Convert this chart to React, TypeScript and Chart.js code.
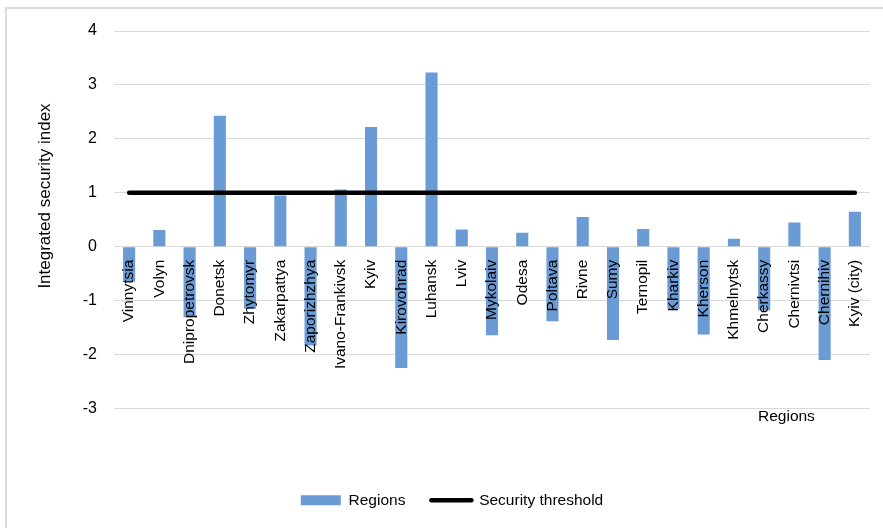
import React, { useEffect, useRef } from "react";
import { Chart, registerables } from "chart.js";

Chart.register(...registerables);

const regions = [
  "Vinnytsia", "Volyn", "Dnipropetrovsk", "Donetsk", "Zhytomyr", "Zakarpattya",
  "Zaporizhzhya", "Ivano-Frankivsk", "Kyiv", "Kirovohrad", "Luhansk", "Lviv",
  "Mykolaiv", "Odesa", "Poltava", "Rivne", "Sumy", "Ternopil", "Kharkiv",
  "Kherson", "Khmelnytsk", "Cherkassy", "Chernivtsi", "Chernihiv", "Kyiv (city)",
];
const indexValues = [
  -0.65, 0.31, -1.31, 2.43, -1.15, 0.95, -1.83, 1.06, 2.22, -2.25, 3.23, 0.32,
  -1.64, 0.26, -1.38, 0.55, -1.73, 0.33, -1.15, -1.63, 0.15, -1.18, 0.45, -2.1, 0.65,
];
const thresholdValues = regions.map(() => 1);
const yTicks = [4, 3, 2, 1, 0, -1, -2, -3];

const FONT = "'Liberation Sans', Arial, sans-serif";
const BAR = "#6b9bd4";
const GRID = "#d9d9d9";

const titlesPlugin = {
  id: "axisTitles",
  afterDraw(chart: any) {
    const ctx = chart.ctx;
    ctx.save();
    ctx.fillStyle = "#000";
    ctx.font = `15.5px ${FONT}`;
    ctx.textAlign = "left";
    ctx.textBaseline = "alphabetic";
    ctx.fillText("Regions", 758, 421);
    ctx.font = `17px ${FONT}`;
    ctx.translate(45, 196);
    ctx.rotate(-Math.PI / 2);
    ctx.textAlign = "center";
    ctx.textBaseline = "middle";
    ctx.fillText("Integrated security index", 0, 0);
    ctx.restore();
  },
};

export default function App() {
  const ref = useRef<HTMLCanvasElement>(null);
  useEffect(() => {
    const chart = new Chart(ref.current!, {
      type: "bar",
      data: {
        labels: regions,
        datasets: [
          {
            type: "line",
            label: "Security threshold",
            data: thresholdValues,
            borderColor: "#000",
            backgroundColor: "#000",
            borderWidth: 4.5,
            borderCapStyle: "round",
            pointRadius: 0,
            order: 0,
          } as any,
          {
            type: "bar",
            label: "Regions",
            data: indexValues,
            backgroundColor: BAR,
            borderWidth: 0,
            barPercentage: 0.4,
            categoryPercentage: 1,
            order: 1,
          },
        ],
      },
      options: {
        animation: false,
        responsive: false,
        layout: { padding: { top: 31, left: 34, right: 13, bottom: 10 } },
        plugins: {
          tooltip: { enabled: false },
          legend: {
            position: "bottom",
            labels: {
              usePointStyle: true,
              pointStyleWidth: 40,
              boxHeight: 10,
              padding: 26,
              color: "#000",
              font: { family: FONT, size: 15.5 },
              generateLabels: () => [
                { text: "Regions", fillStyle: BAR, strokeStyle: BAR, lineWidth: 0, pointStyle: "rect", datasetIndex: 1, hidden: false },
                { text: "Security threshold", fillStyle: "#000", strokeStyle: "#000", lineWidth: 4.5, lineCap: "round", pointStyle: "line", datasetIndex: 0, hidden: false } as any,
              ],
            },
          },
        },
        scales: {
          x: {
            position: { y: 0 } as any,
            grid: { display: false },
            border: { display: false },
            ticks: {
              z: 1,
              autoSkip: false,
              minRotation: 90,
              maxRotation: 90,
              padding: 5,
              color: "#000",
              font: { family: FONT, size: 15.5 },
            },
          },
          x2: {
            type: "category",
            position: "bottom",
            grid: { display: false },
            border: { display: false },
            ticks: { display: false },
            afterFit: (s: any) => { s.height = 58; },
          } as any,
          y: {
            min: -3,
            max: 4,
            afterFit: (s: any) => { s.width = 80; },
            afterBuildTicks: (s: any) => { s.ticks = yTicks.map((v) => ({ value: v })); },
            grid: { color: GRID, lineWidth: 1, drawTicks: false },
            border: { display: false },
            ticks: {
              padding: 17,
              color: "#000",
              font: { family: FONT, size: 16 },
            },
          },
        },
      },
      plugins: [titlesPlugin],
    });
    return () => chart.destroy();
  }, []);
  return (
    <div style={{ position: "fixed", left: 0, top: 0, width: 883, height: 528, background: "#fff" }}>
      <div style={{ position: "absolute", left: 5, top: 7, right: 0, bottom: 0, borderTop: "2px solid #dcdcdc", borderLeft: "2px solid #dcdcdc" }} />
      <canvas ref={ref} width={883} height={528} style={{ position: "absolute", left: 0, top: 0 }} />
    </div>
  );
}
